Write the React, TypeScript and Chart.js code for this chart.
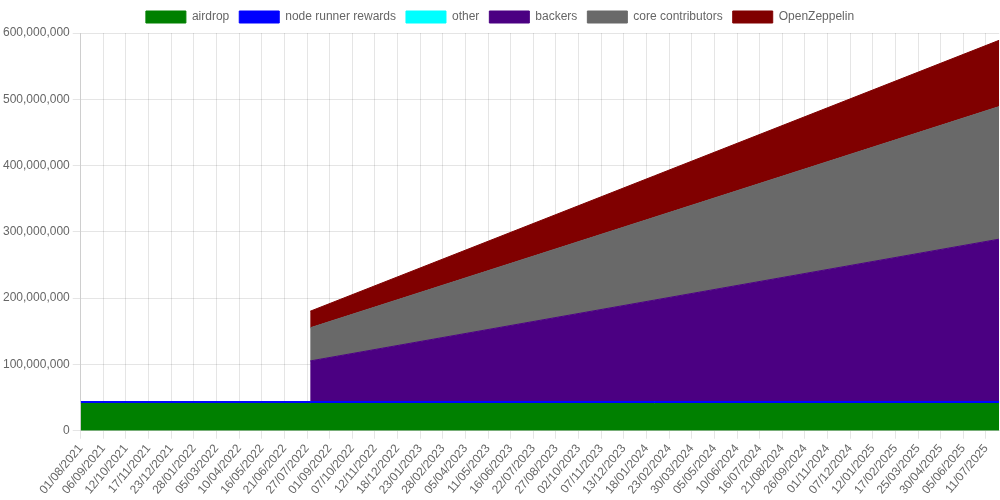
import React, { useEffect, useRef } from "react";
import { Chart, registerables } from "chart.js";

Chart.register(...registerables);

// x tick labels shown on the axis (dd/mm/yyyy)
const tickLabels = [
  "01/08/2021", "06/09/2021", "12/10/2021", "17/11/2021", "23/12/2021",
  "28/01/2022", "05/03/2022", "10/04/2022", "16/05/2022", "21/06/2022",
  "27/07/2022", "01/09/2022", "07/10/2022", "12/11/2022", "18/12/2022",
  "23/01/2023", "28/02/2023", "05/04/2023", "11/05/2023", "16/06/2023",
  "22/07/2023", "27/08/2023", "02/10/2023", "07/11/2023", "13/12/2023",
  "18/01/2024", "23/02/2024", "30/03/2024", "05/05/2024", "10/06/2024",
  "16/07/2024", "21/08/2024", "26/09/2024", "01/11/2024", "07/12/2024",
  "12/01/2025", "17/02/2025", "25/03/2025", "30/04/2025", "05/06/2025",
  "11/07/2025",
];

// dates of the data points (start, 1-year cliff, end of vesting)
const pointDates = ["01/08/2021", "01/08/2022", "01/08/2025"];

// cumulative unlocked tokens per category
const airdrop = [41000000, 41000000, 41000000];
const nodeRunnerRewards = [3000000, 3000000, 3000000];
const other = [0, 0, 0];
const backers: (number | null)[] = [null, 61250000, 245000000];
const coreContributors: (number | null)[] = [null, 50000000, 200000000];
const openZeppelin: (number | null)[] = [null, 25000000, 100000000];

const seriesNames = [
  "airdrop",
  "node runner rewards",
  "other",
  "backers",
  "core contributors",
  "OpenZeppelin",
];
const seriesColors = ["#008000", "#0000ff", "#00ffff", "#4b0082", "#696969", "#800000"];

const START = Date.UTC(2021, 7, 1);
function dayOf(s: string): number {
  const [d, m, y] = s.split("/").map(Number);
  return Math.round((Date.UTC(y, m - 1, d) - START) / 86400000);
}

export default function App() {
  const ref = useRef<HTMLCanvasElement | null>(null);

  useEffect(() => {
    document.body.style.margin = "0";
    if (!ref.current) return;
    const seriesValues = [airdrop, nodeRunnerRewards, other, backers, coreContributors, openZeppelin];
    const xs = pointDates.map(dayOf);
    const datasets = seriesValues.map((vals, i) => ({
      label: seriesNames[i],
      data: vals.map((v, j) => ({ x: xs[j], y: v })),
      backgroundColor: seriesColors[i],
      borderColor: seriesColors[i],
      borderWidth: 1,
      pointRadius: 0,
      pointHoverRadius: 0,
      tension: 0,
      fill: i === 0 ? "origin" : "-1",
    }));
    const chart = new Chart(ref.current, {
      type: "line",
      data: { datasets: datasets as any },
      options: {
        animation: false,
        responsive: true,
        maintainAspectRatio: false,
        layout: { padding: { top: 1 } },
        plugins: {
          legend: { position: "top" },
          tooltip: { enabled: false },
        },
        scales: {
          x: {
            type: "linear",
            min: 0,
            max: dayOf("01/08/2025"),
            afterBuildTicks: (scale: any) => {
              scale.ticks = tickLabels.map((l) => ({ value: dayOf(l) }));
            },
            ticks: {
              autoSkip: false,
              maxRotation: 50,
              callback: (_v: any, idx: number) => tickLabels[idx],
            },
          },
          y: {
            stacked: true,
            min: 0,
            max: 600000000,
            ticks: { stepSize: 100000000 },
          },
        },
      },
    });
    return () => chart.destroy();
  }, []);

  return (
    <div style={{ width: 1000, height: 500, position: "relative" }}>
      <canvas ref={ref} />
    </div>
  );
}
